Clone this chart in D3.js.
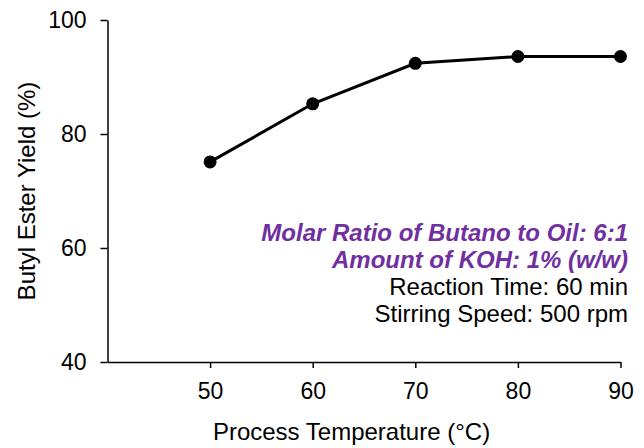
<!DOCTYPE html>
<html>
<head>
<meta charset="utf-8">
<script src="https://d3js.org/d3.v7.min.js"></script>
<style>
  body { margin: 0; background: #fff; }
  svg { font-family: "Liberation Sans", Arial, sans-serif; }
</style>
</head>
<body>
<svg width="644" height="448"></svg>
<script>
// data
var temps = [50, 60, 70, 80, 90];
var yields = [75.1, 85.3, 92.4, 93.6, 93.6];
var yTicks = [40, 60, 80, 100];
var xTicks = [50, 60, 70, 80, 90];
var notes = [
  { text: "Molar Ratio of Butano to Oil: 6:1", em: true },
  { text: "Amount of KOH: 1% (w/w)", em: true },
  { text: "Reaction Time: 60 min", em: false },
  { text: "Stirring Speed: 500 rpm", em: false }
];

var svg = d3.select("svg");

var x = d3.scaleLinear().domain([40, 90]).range([107.5, 620.5]);
var y = d3.scaleLinear().domain([40, 100]).range([362, 20]);

// axes
var xAxis = svg.append("g")
  .attr("transform", "translate(0," + y(40) + ")")
  .call(d3.axisBottom(x).tickValues(xTicks).tickSizeInner(6).tickSizeOuter(0).tickPadding(15));
var yAxis = svg.append("g")
  .attr("transform", "translate(" + x(40) + ",0)")
  .call(d3.axisLeft(y).tickValues(yTicks).tickSizeInner(7).tickSizeOuter(0).tickPadding(14));

[xAxis, yAxis].forEach(function(g) {
  g.select(".domain").attr("stroke", "#000").attr("stroke-width", 1.5);
  g.selectAll(".tick line").attr("stroke", "#000").attr("stroke-width", 1.5);
  g.selectAll(".tick text").attr("font-size", 23).attr("fill", "#000")
    .attr("font-family", "Liberation Sans, Arial, sans-serif");
});

// line + markers
var pts = temps.map(function(t, i) { return { t: t, v: yields[i] }; });
var line = d3.line().x(function(d) { return x(d.t); }).y(function(d) { return y(d.v); });

svg.append("path")
  .datum(pts)
  .attr("d", line)
  .attr("fill", "none")
  .attr("stroke", "#000")
  .attr("stroke-width", 3);

svg.selectAll("circle.pt")
  .data(pts)
  .enter()
  .append("circle")
  .attr("class", "pt")
  .attr("cx", function(d) { return x(d.t); })
  .attr("cy", function(d) { return y(d.v); })
  .attr("r", 6.5)
  .attr("fill", "#000");

// axis titles
svg.append("text")
  .attr("x", 351.5)
  .attr("y", 440)
  .attr("text-anchor", "middle")
  .attr("font-size", 24)
  .text("Process Temperature (°C)");

svg.append("text")
  .attr("transform", "translate(35," + y(70) + ") rotate(-90)")
  .attr("text-anchor", "middle")
  .attr("font-size", 24)
  .text("Butyl Ester Yield (%)");

// annotation block
svg.append("g")
  .selectAll("text")
  .data(notes)
  .enter()
  .append("text")
  .attr("x", 628)
  .attr("y", function(d, i) { return 241 + i * 27; })
  .attr("text-anchor", "end")
  .attr("font-size", 24)
  .attr("font-weight", function(d) { return d.em ? "bold" : "normal"; })
  .attr("font-style", function(d) { return d.em ? "italic" : "normal"; })
  .attr("fill", function(d) { return d.em ? "#7030A0" : "#000"; })
  .text(function(d) { return d.text; });
</script>
</body>
</html>
